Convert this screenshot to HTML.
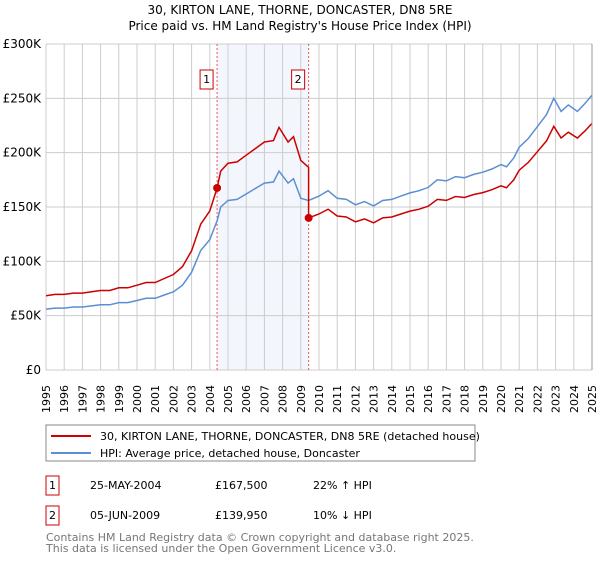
<!DOCTYPE html>
<html><head><meta charset="utf-8"><style>
body{margin:0;background:#fff;width:600px;height:560px;overflow:hidden;font-family:"DejaVu Sans","Liberation Sans",sans-serif}
svg text{font-family:"DejaVu Sans","Liberation Sans",sans-serif}
</style></head><body>
<svg width="600" height="560">
<text x="300" y="14" font-size="12" text-anchor="middle">30, KIRTON LANE, THORNE, DONCASTER, DN8 5RE</text>
<text x="300" y="30" font-size="12" text-anchor="middle">Price paid vs. HM Land Registry's House Price Index (HPI)</text>
<g id="plot"></g>
<rect x="46" y="425" width="429" height="36" fill="#fff" stroke="#888"/>
<line x1="51" y1="436" x2="91" y2="436" stroke="#cc0000" stroke-width="2"/>
<text x="100" y="440" font-size="11">30, KIRTON LANE, THORNE, DONCASTER, DN8 5RE (detached house)</text>
<line x1="51" y1="453" x2="91" y2="453" stroke="#5b8fd4" stroke-width="2"/>
<text x="100" y="457" font-size="11">HPI: Average price, detached house, Doncaster</text>
<g>
<rect x="46" y="476" width="13" height="19" fill="#fff" stroke="#cc0000"/>
<text x="52.5" y="489" font-size="11" text-anchor="middle">1</text>
<text x="90" y="489" font-size="11">25-MAY-2004</text>
<text x="215" y="489" font-size="11">£167,500</text>
<text x="313" y="489" font-size="11">22% ↑ HPI</text></g>
<g>
<rect x="46" y="506" width="13" height="19" fill="#fff" stroke="#cc0000"/>
<text x="52.5" y="519" font-size="11" text-anchor="middle">2</text>
<text x="90" y="519" font-size="11">05-JUN-2009</text>
<text x="215" y="519" font-size="11">£139,950</text>
<text x="313" y="519" font-size="11">10% ↓ HPI</text></g>
<text x="46" y="541" font-size="11" fill="#777">Contains HM Land Registry data © Crown copyright and database right 2025.</text>
<text x="46" y="552" font-size="11" fill="#777">This data is licensed under the Open Government Licence v3.0.</text>
</svg>
<script>
const hpiYears=[1995,1995.5,1996,1996.5,1997,1997.5,1998,1998.5,1999,1999.5,2000,2000.5,2001,2001.5,2002,2002.5,2003,2003.5,2004,2004.4,2004.6,2005,2005.5,2006,2006.5,2007,2007.5,2007.8,2008.3,2008.6,2009,2009.43,2010,2010.5,2011,2011.5,2012,2012.5,2013,2013.5,2014,2014.5,2015,2015.5,2016,2016.5,2017,2017.5,2018,2018.5,2019,2019.5,2020,2020.3,2020.7,2021,2021.5,2022,2022.5,2022.9,2023.3,2023.7,2024.2,2024.6,2025];
const hpiValues=[56,57,57,58,58,59,60,60,62,62,64,66,66,69,72,78,90,110,120,137.3,150,156,157,162,167,172,173,183,172,176,158,156,160,165,158,157,152,155,151,156,157,160,163,165,168,175,174,178,177,180,182,185,189,187,195,205,213,224,235,250,238,244,238,245,253];
const priceRatioBefore=1.22, priceRatioAfter=0.897;
const sales=[[2004.4,167.5],[2009.43,139.95]];
const yTicks=[0,50,100,150,200,250,300];
const yLabels=["£0","£50K","£100K","£150K","£200K","£250K","£300K"];
const xTicks=[1995,1996,1997,1998,1999,2000,2001,2002,2003,2004,2005,2006,2007,2008,2009,2010,2011,2012,2013,2014,2015,2016,2017,2018,2019,2020,2021,2022,2023,2024,2025];
const X=y=>46+(y-1995)*(546/30), Y=v=>370-v*(326/300);
const g=document.getElementById('plot'),NS="http://www.w3.org/2000/svg";
function mk(t,a){const e=document.createElementNS(NS,t);for(const k in a)e.setAttribute(k,a[k]);g.appendChild(e);return e;}
let e=mk('rect',{x:X(sales[0][0]),y:44,width:X(sales[1][0])-X(sales[0][0]),height:326,fill:'#eef3fc',opacity:0.7});


yTicks.forEach((v,i)=>{let l=mk('line',{x1:46,x2:592,y1:Y(v),y2:Y(v),stroke:'#ccc'});


let t=mk('text',{x:41,y:Y(v)+4,'font-size':12,'text-anchor':'end'});t.textContent=yLabels[i];

});
xTicks.forEach(y=>{let l=mk('line',{x1:X(y),x2:X(y),y1:44,y2:370,stroke:'#ccc'});


let t=mk('text',{x:0,y:0,'font-size':11,'text-anchor':'end',transform:`translate(${X(y)+4},${385}) rotate(-90)`});t.textContent=y;

});
sales.forEach((s,i)=>{let l=mk('line',{x1:X(s[0]),x2:X(s[0]),y1:44,y2:370,stroke:'#e55',"stroke-dasharray":'2,2'});


let r=mk('rect',{x:X(s[0])-16+i*0,y:70,width:13,height:19,fill:'#fff',stroke:'#cc0000'});
r.setAttribute('x',X(s[0])-13-4);


let t=mk('text',{x:X(s[0])-10.5,y:83,'font-size':11,'text-anchor':'middle'});t.textContent=i+1;

});
let hp=hpiYears.map((y,i)=>`${X(y).toFixed(1)},${Y(hpiValues[i]).toFixed(1)}`).join(' ');
let hl=mk('polyline',{points:hp,fill:'none',stroke:'#5b8fd4','stroke-width':1.5});


let pts=[];hpiYears.forEach((y,i)=>{if(y<sales[1][0])pts.push([y,hpiValues[i]*priceRatioBefore]);else if(y==sales[1][0]){pts.push([y,hpiValues[i]*priceRatioBefore*0.98]);pts.push([y,sales[1][1]]);}else pts.push([y,hpiValues[i]*priceRatioAfter]);});
let pl=mk('polyline',{points:pts.map(p=>`${X(p[0]).toFixed(1)},${Y(p[1]).toFixed(1)}`).join(' '),fill:'none',stroke:'#cc0000','stroke-width':1.5});


sales.forEach(s=>{let c=mk('circle',{cx:X(s[0]),cy:Y(s[1]),r:4,fill:'#cc0000'});

});
let ax=mk('line',{x1:592,x2:592,y1:44,y2:370,stroke:'#999'});


</script>
</body></html>
